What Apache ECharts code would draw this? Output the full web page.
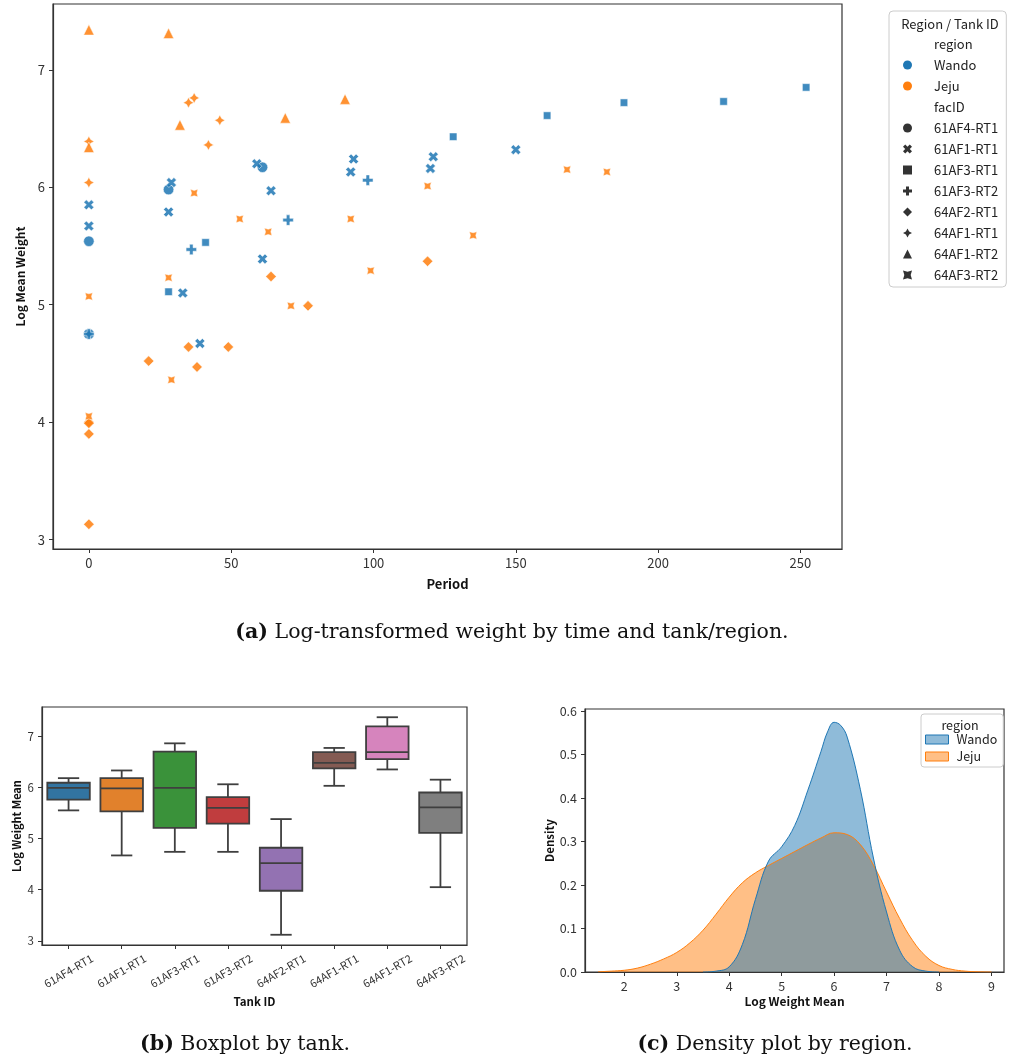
<!DOCTYPE html>
<html>
<head>
<meta charset="utf-8">
<script src="https://cdn.jsdelivr.net/npm/echarts@6/dist/echarts.min.js"></script>
<style>
  html, body { margin: 0; padding: 0; background: #fff; }
  #chart { width: 1012px; height: 1059px; }
</style>
</head>
<body>
<div id="chart"></div>
<script>
// tanks and the region each one belongs to
const tanks = ['61AF4-RT1', '61AF1-RT1', '61AF3-RT1', '61AF3-RT2', '64AF2-RT1', '64AF1-RT1', '64AF1-RT2', '64AF3-RT2'];
const tankRegion = ['Wando', 'Wando', 'Wando', 'Wando', 'Jeju', 'Jeju', 'Jeju', 'Jeju'];

// (a) [period, log mean weight] per tank
const pts61AF4RT1 = [[0, 5.54], [28, 5.98], [61, 6.17]];
const pts61AF1RT1 = [[0, 5.85], [0, 5.67], [0, 4.75], [29, 6.04], [28, 5.79], [33, 5.10], [39, 4.67], [59, 6.20],
  [64, 5.97], [61, 5.39], [92, 6.13], [93, 6.24], [120, 6.16], [121, 6.26], [150, 6.32]];
const pts61AF3RT1 = [[28, 5.11], [41, 5.53], [128, 6.43], [161, 6.61], [188, 6.72], [223, 6.73], [252, 6.85]];
const pts61AF3RT2 = [[0, 4.75], [36, 5.47], [70, 5.72], [98, 6.06]];
const pts64AF2RT1 = [[0, 4.0], [0, 3.99], [0, 3.90], [0, 3.13], [21, 4.52], [35, 4.64], [38, 4.47], [49, 4.64],
  [64, 5.24], [77, 4.99], [119, 5.37]];
const pts64AF1RT1 = [[0, 6.04], [0, 6.39], [35, 6.72], [37, 6.76], [46, 6.57], [42, 6.36]];
const pts64AF1RT2 = [[0, 7.34], [28, 7.31], [0, 6.34], [32, 6.53], [69, 6.59], [90, 6.75]];
const pts64AF3RT2 = [[0, 5.07], [0, 4.05], [28, 5.23], [29, 4.36], [37, 5.95], [53, 5.73], [63, 5.62], [71, 4.99],
  [92, 5.73], [99, 5.29], [119, 6.01], [135, 5.59], [168, 6.15], [182, 6.13]];
const scatterPoints = [pts61AF4RT1, pts61AF1RT1, pts61AF3RT1, pts61AF3RT2, pts64AF2RT1, pts64AF1RT1, pts64AF1RT2, pts64AF3RT2];

// (b) box summaries
const boxMin = [5.55, 4.67, 4.74, 4.74, 3.12, 6.03, 6.35, 4.05];
const boxQ1  = [5.76, 5.53, 5.21, 5.29, 3.98, 6.37, 6.55, 5.11];
const boxMed = [5.99, 5.98, 5.99, 5.60, 4.52, 6.48, 6.69, 5.61];
const boxQ3  = [6.09, 6.18, 6.70, 5.81, 4.82, 6.69, 7.19, 5.90];
const boxMax = [6.18, 6.33, 6.86, 6.06, 5.38, 6.77, 7.37, 6.15];

// (c) density curves
const wandoX = [3.5, 3.75, 4.0, 4.25, 4.5, 4.75, 5.0, 5.25, 5.5, 5.75, 5.875, 6.0, 6.125, 6.25, 6.5, 6.75, 7.0, 7.25, 7.5, 7.75, 8.0];
const wandoY = [0, 0.002, 0.012, 0.063, 0.167, 0.255, 0.288, 0.337, 0.418, 0.507, 0.552, 0.574, 0.567, 0.54, 0.42, 0.262, 0.138, 0.05, 0.012, 0.002, 0];
const jejuX = [1.5, 1.75, 2.0, 2.25, 2.5, 2.75, 3.0, 3.25, 3.5, 3.75, 4.0, 4.25, 4.5, 4.75, 5.0, 5.25,
  5.5, 5.75, 6.0, 6.25, 6.5, 6.75, 7.0, 7.25, 7.5, 7.75, 8.0, 8.25, 8.5, 8.75, 9.0];
const jejuY = [0.0005, 0.002, 0.004, 0.009, 0.018, 0.03, 0.045, 0.067, 0.096, 0.133, 0.172, 0.205, 0.228, 0.245, 0.261, 0.277,
  0.293, 0.308, 0.32, 0.316, 0.293, 0.246, 0.184, 0.123, 0.072, 0.036, 0.015, 0.006, 0.002, 0.0005, 0];

// tick labels
const periodTicks = [0, 50, 100, 150, 200, 250];
const weightTicks = [3, 4, 5, 6, 7];
const densXTicks = [2, 3, 4, 5, 6, 7, 8, 9];
const densYTicks = [0, 0.1, 0.2, 0.3, 0.4, 0.5, 0.6];

const FONT = 'Noto Sans CJK KR';
const SERIF = 'DejaVu Serif';
const regionColor = { Wando: '#1f77b4', Jeju: '#ff7f0e' };
const boxColors = ['#3274a1', '#e1812c', '#3a923a', '#c03d3e', '#9372b2', '#845b53', '#d684bd', '#7f7f7f'];

const P_X = 'path://M1.414,-2.828L2.828,-1.414L1.414,0L2.828,1.414L1.414,2.828L0,1.414L-1.414,2.828L-2.828,1.414L-1.414,0L-2.828,-1.414L-1.414,-2.828L0,-1.414Z';
const P_PLUS = 'path://M-1,-3L1,-3L1,-1L3,-1L3,1L1,1L1,3L-1,3L-1,1L-3,1L-3,-1L-1,-1Z';
const P_STAR = 'path://M0,-10L3.54,-3.54L10,0L3.54,3.54L0,10L-3.54,3.54L-10,0L-3.54,-3.54Z';
const P_STARX = 'path://M7.07,-7.07L0,-5L-7.07,-7.07L-5,0L-7.07,7.07L0,5L7.07,7.07L5,0Z';
const tankSymbols = ['circle', P_X, 'rect', P_PLUS, 'diamond', P_STAR, 'triangle', P_STARX];
const tankSizes = [10.5, 10, 7.5, 10.5, 10.5, 10.5, 10.5, 7.5];

const axisCommon = {
  axisLine: { show: true, onZero: false, lineStyle: { color: '#333', width: 1.2 } },
  axisTick: { show: true, inside: false, length: 4, lineStyle: { color: '#333', width: 1 } },
  splitLine: { show: false },
  nameLocation: 'middle'
};

function valueAxis(grid, min, max, ticks, fontSize, fmt, name, nameGap, nameSize) {
  return Object.assign({}, axisCommon, {
    gridIndex: grid, type: 'value', min: min, max: max,
    axisLabel: { customValues: ticks, fontSize: fontSize, color: '#333', fontFamily: FONT, margin: 8, formatter: fmt },
    axisTick: Object.assign({}, axisCommon.axisTick, { customValues: ticks }),
    name: name, nameGap: nameGap,
    nameTextStyle: { fontWeight: 'bold', fontSize: nameSize, color: '#111', fontFamily: FONT }
  });
}

const myChart = echarts.init(document.getElementById('chart'), null, { renderer: 'canvas' });

let series = [];
// legend-only entries
['region', 'Wando', 'Jeju', 'facID'].forEach(n => {
  series.push({ name: n, type: 'scatter', xAxisIndex: 0, yAxisIndex: 0, data: [] });
});
tanks.forEach((t, i) => {
  series.push({
    name: t,
    type: 'scatter',
    xAxisIndex: 0, yAxisIndex: 0,
    symbol: tankSymbols[i],
    symbolSize: tankSizes[i],
    itemStyle: { color: regionColor[tankRegion[i]], opacity: 0.85, borderColor: '#fff', borderWidth: 0.6 },
    data: scatterPoints[i]
  });
});

series.push({
  name: 'box',
  type: 'custom',
  xAxisIndex: 1, yAxisIndex: 1,
  encode: { x: 0, y: [1, 2, 3, 4, 5] },
  data: tanks.map((t, i) => [i, boxMin[i], boxQ1[i], boxMed[i], boxQ3[i], boxMax[i]]),
  renderItem: function (params, api) {
    const i = api.value(0);
    const lo = api.coord([i, api.value(1)]);
    const q1 = api.coord([i, api.value(2)]);
    const md = api.coord([i, api.value(3)]);
    const q3 = api.coord([i, api.value(4)]);
    const hi = api.coord([i, api.value(5)]);
    const band = api.size([1, 0])[0];
    const hw = band * 0.4, cw = band * 0.2, x = lo[0];
    const ls = { stroke: '#3f3f3f', lineWidth: 1.8 };
    return {
      type: 'group',
      children: [
        { type: 'line', shape: { x1: x, y1: hi[1], x2: x, y2: q3[1] }, style: ls },
        { type: 'line', shape: { x1: x, y1: q1[1], x2: x, y2: lo[1] }, style: ls },
        { type: 'line', shape: { x1: x - cw, y1: hi[1], x2: x + cw, y2: hi[1] }, style: ls },
        { type: 'line', shape: { x1: x - cw, y1: lo[1], x2: x + cw, y2: lo[1] }, style: ls },
        { type: 'rect', shape: { x: x - hw, y: q3[1], width: hw * 2, height: q1[1] - q3[1] },
          style: { fill: boxColors[i], stroke: '#3f3f3f', lineWidth: 1.8 } },
        { type: 'line', shape: { x1: x - hw, y1: md[1], x2: x + hw, y2: md[1] }, style: ls }
      ]
    };
  }
});

series.push({
  name: 'Jeju', type: 'line', xAxisIndex: 2, yAxisIndex: 2,
  smooth: 0.4, symbol: 'none',
  lineStyle: { color: '#ff7f0e', width: 1 },
  itemStyle: { color: '#ff7f0e' },
  areaStyle: { color: 'rgba(255,127,14,0.5)', opacity: 1 },
  data: jejuX.map((v, i) => [v, jejuY[i]])
});
series.push({
  name: 'Wando', type: 'line', xAxisIndex: 2, yAxisIndex: 2,
  smooth: 0.4, symbol: 'none',
  lineStyle: { color: '#1f77b4', width: 1 },
  itemStyle: { color: '#1f77b4' },
  areaStyle: { color: 'rgba(31,119,180,0.5)', opacity: 1 },
  data: wandoX.map((v, i) => [v, wandoY[i]])
});

const intFmt = v => String(Math.round(v));
const captionRich = {
  b: { fontWeight: 'bold', fontSize: 20.5, fontFamily: SERIF, fill: '#111' },
  n: { fontSize: 20.5, fontFamily: SERIF, fill: '#111' }
};
function caption(x, y, tag, text) {
  return { type: 'text', x: x, y: y, z: 100, style: {
    text: '{b|' + tag + '}{n| ' + text + '}', rich: captionRich,
    fontSize: 20.5, fontFamily: SERIF, align: 'center', verticalAlign: 'middle', textAlign: 'center', textVerticalAlign: 'middle' } };
}

const option = {
  animation: false,
  backgroundColor: '#fff',
  grid: [
    { left: 53, top: 4, width: 789, height: 545, show: true, borderColor: '#333', borderWidth: 1.2 },
    { left: 42, top: 707, width: 425, height: 238, show: true, borderColor: '#333', borderWidth: 1.2 },
    { left: 585, top: 709, width: 419, height: 263, show: true, borderColor: '#333', borderWidth: 1.2 }
  ],
  xAxis: [
    valueAxis(0, -12.6, 264.6, periodTicks, 13, intFmt, 'Period', 29, 13),
    Object.assign({}, axisCommon, {
      gridIndex: 1, type: 'category', data: tanks,
      axisTick: Object.assign({}, axisCommon.axisTick, { alignWithLabel: true }),
      axisLabel: { rotate: 30, align: 'center', verticalAlign: 'middle', margin: 26, fontSize: 11, color: '#333', fontFamily: FONT, interval: 0 },
      name: 'Tank ID', nameGap: 51,
      nameTextStyle: { fontWeight: 'bold', fontSize: 11.5, color: '#111', fontFamily: FONT }
    }),
    valueAxis(2, 1.25, 9.24, densXTicks, 12.5, intFmt, 'Log Weight Mean', 23, 12)
  ],
  yAxis: [
    valueAxis(0, 2.92, 7.56, weightTicks, 13, intFmt, 'Log Mean Weight', 26, 12),
    valueAxis(1, 2.92, 7.57, weightTicks, 11.5, intFmt, 'Log Weight Mean', 20, 11),
    valueAxis(2, 0, 0.6046, densYTicks, 12.5, v => v.toFixed(1), 'Density', 30, 11.5)
  ],
  legend: [
    {
      orient: 'vertical', left: 889, top: 11,
      padding: [26, 8, 5, 14],
      itemWidth: 9, itemHeight: 9, itemGap: 7,
      borderColor: '#ccc', borderWidth: 1, borderRadius: 4,
      selectedMode: false,
      textStyle: { fontSize: 13, color: '#222', fontFamily: FONT, lineHeight: 14, padding: [0, 0, 0, 17] },
      data: [
        { name: 'region', icon: 'none' },
        { name: 'Wando', icon: 'circle', itemStyle: { color: regionColor.Wando, borderWidth: 0, opacity: 1 } },
        { name: 'Jeju', icon: 'circle', itemStyle: { color: regionColor.Jeju, borderWidth: 0, opacity: 1 } },
        { name: 'facID', icon: 'none' }
      ].concat(tanks.map((t, i) => ({ name: t, icon: tankSymbols[i], itemStyle: { color: '#333', borderWidth: 0, opacity: 1 } })))
    },
    {
      orient: 'vertical', left: 921, top: 714,
      padding: [19, 6, 4, 4],
      itemWidth: 23, itemHeight: 9, itemGap: 4,
      borderColor: '#ccc', borderWidth: 1, borderRadius: 3,
      backgroundColor: 'rgba(255,255,255,0.8)',
      selectedMode: false,
      textStyle: { fontSize: 12.5, color: '#222', fontFamily: FONT, lineHeight: 13, padding: [0, 0, 0, 3] },
      data: [
        { name: 'Wando', icon: 'rect', itemStyle: { color: 'rgba(31,119,180,0.5)', borderColor: '#1f77b4', borderWidth: 1, opacity: 1 } },
        { name: 'Jeju', icon: 'rect', itemStyle: { color: 'rgba(255,127,14,0.5)', borderColor: '#ff7f0e', borderWidth: 1, opacity: 1 } }
      ]
    }
  ],
  graphic: [
    { type: 'text', x: 950, y: 24, z: 100, style: { text: 'Region / Tank ID', fontSize: 13, fontFamily: FONT, fill: '#222', align: 'center', verticalAlign: 'middle', textAlign: 'center', textVerticalAlign: 'middle' } },
    { type: 'text', x: 960, y: 725, z: 100, style: { text: 'region', fontSize: 12.5, fontFamily: FONT, fill: '#222', align: 'center', verticalAlign: 'middle', textAlign: 'center', textVerticalAlign: 'middle' } },
    caption(512, 633, '(a)', 'Log-transformed weight by time and tank/region.'),
    caption(245, 1045, '(b)', 'Boxplot by tank.'),
    caption(775, 1045, '(c)', 'Density plot by region.')
  ],
  series: series
};
myChart.setOption(option);
</script>
</body>
</html>
